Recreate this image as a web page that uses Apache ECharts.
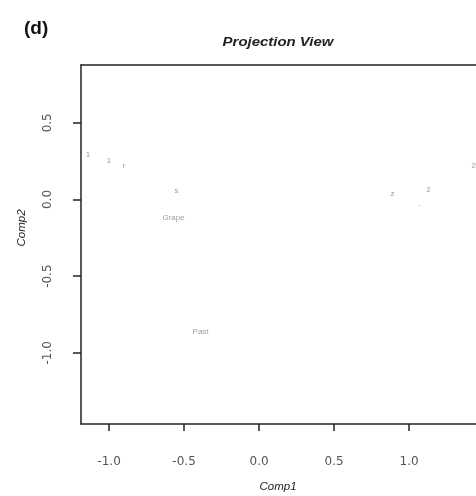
<!DOCTYPE html>
<html><head><meta charset="utf-8">
<script src="https://cdn.jsdelivr.net/npm/echarts@6/dist/echarts.min.js"></script>
<style>html,body{margin:0;padding:0;background:#fff}#c{width:476px;height:496px}</style>
</head><body><div id="c"></div>
<script>
var pointLabels = ["1", "1", "r", "s", "Grape", "Past", "z", "2", "·", "2"];
var comp1 = [-1.14, -1.00, -0.90, -0.55, -0.57, -0.39, 0.89, 1.13, 1.07, 1.43];
var comp2 = [0.29, 0.25, 0.22, 0.055, -0.12, -0.86, 0.04, 0.06, -0.04, 0.22];
var xTicks = [-1.0, -0.5, 0.0, 0.5, 1.0];
var yTicks = [-1.0, -0.5, 0.0, 0.5];

var data = comp1.map(function(x, i){ return {value:[x, comp2[i]], name: pointLabels[i]}; });
var chart = echarts.init(document.getElementById('c'));
var font = '"Liberation Sans", Arial, sans-serif';
var tickFont = '"DejaVu Sans", sans-serif';
var lineStyle = {color:'#222', width:1.5};
chart.setOption({
  animation:false,
  backgroundColor:'#fff',
  grid:{left:81, top:65, bottom:72, right:0, show:false},
  xAxis:[{type:'value', min:-1.187, max:1.446, position:'bottom',
    axisLine:{show:true, onZero:false, lineStyle:lineStyle}, splitLine:{show:false},
    axisTick:{show:true, customValues:xTicks, length:7, inside:false, lineStyle:lineStyle},
    axisLabel:{customValues:xTicks, margin:32, color:'#555', fontSize:12, fontFamily:tickFont,
      formatter:function(v){return v.toFixed(1);}}
  },{type:'value', min:-1.187, max:1.446, position:'top',
    axisLine:{show:true, onZero:false, lineStyle:lineStyle}, splitLine:{show:false},
    axisTick:{show:false}, axisLabel:{show:false}
  }],
  yAxis:{type:'value', min:-1.464, max:0.877, position:'left',
    axisLine:{show:true, onZero:false, lineStyle:lineStyle}, splitLine:{show:false},
    axisTick:{show:true, customValues:yTicks, length:8, lineStyle:lineStyle},
    axisLabel:{customValues:yTicks, margin:27, rotate:90, color:'#555', fontSize:12, fontFamily:tickFont,
      formatter:function(v){return v.toFixed(1);}}
  },
  series:[{type:'scatter', xAxisIndex:0, data:data, symbolSize:1, itemStyle:{color:'#bbb'},
    label:{show:true, position:'inside', formatter:'{b}', color:'#888', fontSize:8, fontFamily:font}}],
  graphic:[
    {type:'text', left:24, top:19, style:{text:'(d)', font:'bold 19px '+font, fill:'#111'}},
    {type:'text', x:278, y:42, scaleX:1.15, style:{text:'Projection View', font:'italic bold 13px '+font, fill:'#222', textAlign:'center', textVerticalAlign:'middle'}},
    {type:'text', x:278, y:487, style:{text:'Comp1', font:'italic 11.5px '+font, fill:'#222', textAlign:'center', textVerticalAlign:'middle'}},
    {type:'text', x:22, y:228, rotation:Math.PI/2, style:{text:'Comp2', font:'italic 11.5px '+font, fill:'#222', textAlign:'center', textVerticalAlign:'middle'}}
  ]
});
</script></body></html>
